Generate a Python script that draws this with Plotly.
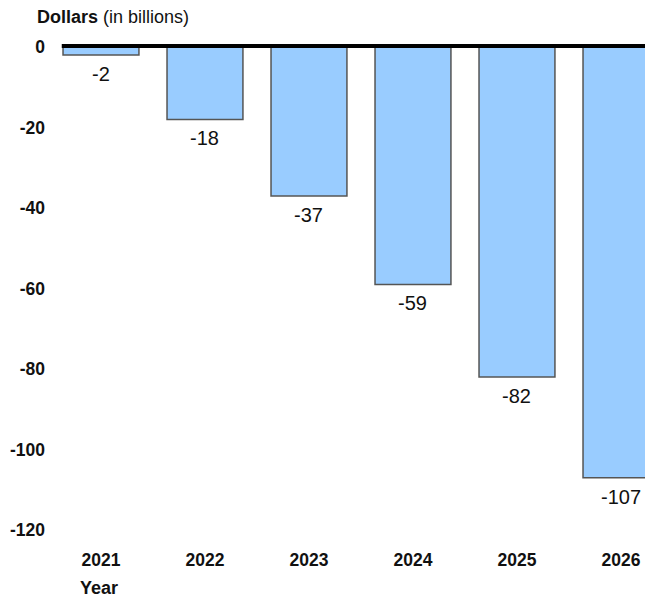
import plotly.graph_objects as go

years = ["2021", "2022", "2023", "2024", "2025", "2026"]
values = [-2, -18, -37, -59, -82, -107]
y_ticks = [0, -20, -40, -60, -80, -100, -120]

FONT = "Arial, Liberation Sans, sans-serif"

fig = go.Figure()
fig.add_trace(go.Bar(
    x=list(range(len(years))), y=values,
    marker=dict(color="#99CCFF", line=dict(color="#555555", width=1.5)),
    textposition="none",
    hoverinfo="skip",
))

for i, v in enumerate(values):
    fig.add_annotation(x=i, y=v, text=str(v), showarrow=False, yanchor="middle",
                       yshift=-19, font=dict(family=FONT, size=20, color="#111111"))

fig.add_shape(type="line", xref="paper", yref="paper", x0=0.003, x1=1, y0=1.002, y1=1.002,
              line=dict(color="black", width=4), layer="above")

fig.add_annotation(xref="paper", yref="paper", x=-0.043, y=1, xanchor="left", yanchor="middle",
                   yshift=30, showarrow=False,
                   text="<b>Dollars</b> (in billions)",
                   font=dict(family=FONT, size=18, color="#111111"))
fig.add_annotation(xref="paper", yref="paper", x=0.031, y=0, xanchor="left", yanchor="middle",
                   yshift=-58, showarrow=False, text="<b>Year</b>",
                   font=dict(family=FONT, size=18, color="#111111"))

fig.update_layout(
    width=645, height=599,
    margin=dict(l=60, r=0, t=47, b=69),
    plot_bgcolor="white", paper_bgcolor="white",
    showlegend=False, bargap=0.27,
    font=dict(family=FONT, color="#111111"),
    xaxis=dict(range=[-0.394, 5.231], tickmode="array", tickvals=list(range(len(years))),
               ticktext=[f"<b>{y}</b>" for y in years], showgrid=False, zeroline=False,
               showline=False, ticks="", ticklabelstandoff=17,
               tickfont=dict(family=FONT, size=17.5, color="#111111")),
    yaxis=dict(range=[-120, 0], tickmode="array", tickvals=y_ticks,
               ticktext=[f"<b>{t}</b>" for t in y_ticks], showgrid=False, zeroline=False,
               showline=False, ticks="", ticklabelstandoff=14,
               tickfont=dict(family=FONT, size=17.5, color="#111111")),
)

fig.write_html("out.html", config={"displayModeBar": False, "staticPlot": True},
               post_script="document.body.style.margin='0px';document.body.style.overflow='hidden';")
